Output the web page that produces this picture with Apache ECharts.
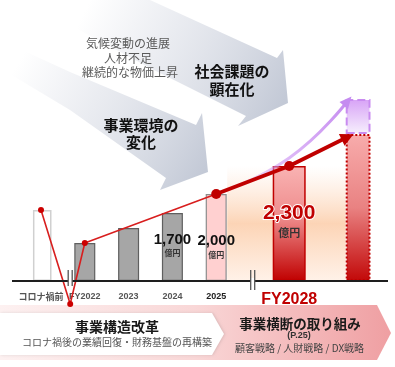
<!DOCTYPE html>
<html><head><meta charset="utf-8">
<script src="https://cdn.jsdelivr.net/npm/echarts@6/dist/echarts.min.js"></script>
<style>html,body{margin:0;padding:0;background:#fff}#c{width:395px;height:367px}</style>
</head><body><div id="c"></div>
<script>
// ---------------- data ----------------
const categories   = ['コロナ禍前', 'FY2022', '2023', '2024', '2025', 'FY2028', '目標'];
const barValues    = [71, 38, 53, 68, 87, 115, 147];          // bar heights (visual index)
const upsideValues = [null, null, null, null, null, null, 35]; // upside stacked on the target bar
const amountLabels = [null, null, null, '1,700', '2,000', '2,300', null];
const unitLabel    = '億円';
const trendThin    = [71, -23, 38, 87];   // コロナ禍前, コロナ禍の底, FY2022, 2025
const trendThick   = [87, 115, 144];      // 2025, FY2028, 矢印先端
const upsideCurve  = [87, 123, 180];      // 2025, FY2028, 矢印先端
const topNotes     = ['気候変動の進展', '人材不足', '継続的な物価上昇'];
const arrowTitles  = ['事業環境の\n変化', '社会課題の\n顕在化'];
const bannerLeft   = ['事業構造改革', 'コロナ禍後の業績回復・財務基盤の再構築'];
const bannerRight  = ['事業横断の取り組み', '(P.25)', '顧客戦略 / 人財戦略 / DX戦略'];

// ---------------- layout (broken axis slots) ----------------
const SLOT_COUNT = 23;
const catSlot = [0, 3, 6, 9, 12, 17, 22];
const troughSlot = 2, tipSlot = 21;
const thinSlots = [0, troughSlot, catSlot[1], catSlot[4]];
const thickSlots = [catSlot[4], catSlot[5], tipSlot];

const LAT = '"Liberation Sans", Arial, "Noto Sans CJK JP", sans-serif';
const JP = '"Noto Sans CJK JP", "Liberation Sans", sans-serif';

function vgrad(stops) {
  return new echarts.graphic.LinearGradient(0, 0, 0, 1, stops.map((c, i) => ({offset: Array.isArray(c) ? c[0] : i / (stops.length - 1), color: Array.isArray(c) ? c[1] : c})));
}

const barStyles = [
  {color: '#ffffff', borderColor: '#d0d0d0', borderWidth: 1.5},
  {color: '#a6a6a6', borderColor: '#5f5f5f', borderWidth: 1.2},
  {color: '#a6a6a6', borderColor: '#5f5f5f', borderWidth: 1.2},
  {color: '#a6a6a6', borderColor: '#5f5f5f', borderWidth: 1.2},
  {color: '#ffd0d0', borderColor: '#8c8c8c', borderWidth: 1.2},
  {color: vgrad([[0, '#f9b3b3'], [0.45, '#ee8b8b'], [1, '#c00000']]), borderColor: '#c00000', borderWidth: 1.5},
  {color: vgrad([[0, '#f8acac'], [0.5, '#e98282'], [1, '#c20808']]), borderColor: '#c00000', borderWidth: 2, borderType: 'dotted'}
];
const upsideStyle = {color: vgrad([[0, '#d7a2f6'], [1, '#f7f0fd']]), borderColor: '#c98cf0', borderWidth: 2, borderType: 'dashed'};

const labelCfg = [
  null, null, null,
  {offset: [0, -2], a: {fontSize: 15, color: '#111', lineHeight: 16}, b: {fontSize: 8, color: '#333', lineHeight: 11}},
  {offset: [0, 9], a: {fontSize: 15, color: '#111', lineHeight: 16}, b: {fontSize: 8, color: '#333', lineHeight: 11}},
  {offset: [0, -3], a: {fontSize: 21, color: '#c00000', lineHeight: 24, textBorderColor: '#fff', textBorderWidth: 2}, b: {fontSize: 11, color: '#333', lineHeight: 14}},
  null
];

const empty = () => new Array(SLOT_COUNT).fill('-');
const smallBars = empty(), bigBars = empty(), upsideBars = empty();
categories.forEach((c, i) => {
  const item = {value: barValues[i], itemStyle: barStyles[i]};
  const lc = labelCfg[i];
  if (lc && amountLabels[i]) {
    item.label = {
      show: true, position: 'inside', offset: lc.offset,
      formatter: '{a|' + amountLabels[i] + '}\n{b|' + unitLabel + '}',
      rich: {
        a: Object.assign({fontFamily: LAT, fontWeight: 'bold', align: 'center'}, lc.a),
        b: Object.assign({fontFamily: JP, fontWeight: 'bold', align: 'center'}, lc.b)
      }
    };
  }
  if (catSlot[i] < catSlot[5]) smallBars[catSlot[i]] = item; else bigBars[catSlot[i]] = item;
  if (upsideValues[i] != null) upsideBars[catSlot[i]] = {value: upsideValues[i], itemStyle: upsideStyle};
});

const thinData = empty();
thinSlots.forEach((s, i) => { thinData[s] = {value: trendThin[i], symbol: i === 3 ? 'none' : 'circle'}; });
const thickData = empty();
thickSlots.forEach((s, i) => {
  thickData[s] = i === 2 ? {value: trendThick[i], symbol: 'triangle', symbolSize: [13, 13], symbolRotate: -64} : {value: trendThick[i]};
});
const curveData = empty();
thickSlots.forEach((s, i) => {
  curveData[s] = i === 2 ? {value: upsideCurve[i], symbol: 'triangle', symbolSize: [11, 12], symbolRotate: -40} : {value: upsideCurve[i], symbol: 'none'};
});

const slotNames = [];
for (let i = 0; i < SLOT_COUNT; i++) {
  const j = catSlot.indexOf(i);
  if (j >= 0) {
    const isBig = categories[j] === 'FY2028';
    slotNames.push({
      value: categories[j],
      textStyle: isBig ? {fontSize: 16, color: '#c00000', fontWeight: 'bold', fontFamily: LAT}
        : {fontSize: 9, fontWeight: 'bold', color: categories[j] === '2025' ? '#222' : '#555', fontFamily: categories[j] === 'コロナ禍前' ? JP : LAT}
    });
  } else slotNames.push(' '.repeat(i + 1));
}

const xAxisBase = {
  type: 'category', data: slotNames, boundaryGap: true,
  axisLine: {show: false}, axisTick: {show: false}, splitLine: {show: false}
};

const chart = echarts.init(document.getElementById('c'));
chart.setOption({
  animation: false,
  backgroundColor: '#fff',
  grid: {left: 33.7, right: 25.5, top: 81, bottom: 86, containLabel: false, outerBoundsMode: 'none'},
  xAxis: [
    Object.assign({}, xAxisBase, {
      axisLabel: {interval: 0, margin: 11, verticalAlign: 'middle',
        formatter: v => (v === '目標' || !v.trim()) ? '' : v}
    }),
    Object.assign({}, xAxisBase, {show: false})
  ],
  yAxis: {type: 'value', min: 0, max: 200, show: false, splitLine: {show: false}},
  series: [
    {type: 'bar', xAxisIndex: 0, data: smallBars, barWidth: 21, z: 3},
    {type: 'bar', xAxisIndex: 1, data: bigBars, barWidth: 33, stack: 't', z: 3},
    {type: 'bar', xAxisIndex: 1, data: upsideBars, barWidth: 33, stack: 't', z: 3},
    {type: 'line', xAxisIndex: 0, data: curveData, smooth: 0.5, connectNulls: true, clip: false, showAllSymbol: true,
      symbol: 'none', z: 4,
      itemStyle: {color: '#c58cf0'},
      lineStyle: {width: 3, color: new echarts.graphic.LinearGradient(0, 0, 1, 0, [
        {offset: 0, color: 'rgba(214,165,245,0)'}, {offset: 0.45, color: 'rgba(206,150,243,0.6)'}, {offset: 1, color: '#c58cf0'}])}},
    {type: 'line', xAxisIndex: 0, data: thinData, connectNulls: true, clip: false, showAllSymbol: true,
      symbol: 'circle', symbolSize: 6, z: 5,
      itemStyle: {color: '#cc0000'}, lineStyle: {width: 1.6, color: '#d81e1e'}},
    {type: 'line', xAxisIndex: 0, data: thickData, connectNulls: true, clip: false, showAllSymbol: true,
      symbol: 'circle', symbolSize: 10, z: 6,
      itemStyle: {color: '#c00000'}, lineStyle: {width: 4, color: '#c00000'}}
  ]
});

// ---------------- decorations (from axis scales) ----------------
const base = chart.convertToPixel({yAxisIndex: 0}, 0);
const xs = i => chart.convertToPixel({xAxisIndex: 0}, i);
const brk1 = xs(troughSlot);
const brk2 = (xs(14) + xs(15)) / 2;
const glowL = xs(catSlot[4]) + 11, glowR = xs(catSlot[6]) - 16.5;
const glowTop = chart.convertToPixel({yAxisIndex: 0}, barValues[5]);

function breakMark(x, up, down) {
  return [
    {type: 'rect', z: 60, shape: {x: x - 2, y: base - 3, width: 4, height: 6}, style: {fill: '#fff'}},
    {type: 'line', z: 61, shape: {x1: x - 2, y1: base - up, x2: x - 2, y2: base + down}, style: {stroke: '#555', lineWidth: 1.3}},
    {type: 'line', z: 61, shape: {x1: x + 2, y1: base - up, x2: x + 2, y2: base + down}, style: {stroke: '#555', lineWidth: 1.3}}
  ];
}
function txt(text, x, y, font, fill, extra) {
  return Object.assign({type: 'text', z: 80, style: Object.assign({text, x, y, font, fill, align: 'center', verticalAlign: 'middle'}, extra || {})}, {});
}
const arrowGrad = (x1, y1, x2, y2) => ({type: 'linear', x: x1, y: y1, x2: x2, y2: y2, global: true,
  colorStops: [{offset: 0, color: 'rgba(210,214,225,0)'}, {offset: 0.45, color: 'rgba(212,216,226,0.55)'}, {offset: 1, color: '#c3c9d6'}]});

const graphics = [
  // background arrows
  {type: 'polygon', z: -5, shape: {points: [[20, -5], [150, 0], [277, 58], [283, 50], [288, 103], [238, 126], [246, 116], [150, 68], [70, 25], [10, 5]]},
    style: {fill: arrowGrad(90, 0, 285, 100)}},
  {type: 'polygon', z: -5, shape: {points: [[0, 40], [70, 72], [196, 125], [202, 113], [208, 172], [160, 190], [166, 178], [70, 110], [0, 68]]},
    style: {fill: arrowGrad(20, 60, 205, 170)}},
  // glow behind target bars
  {type: 'rect', z: -4, shape: {x: glowL, y: glowTop, width: glowR - glowL, height: base - glowTop},
    style: {fill: {type: 'linear', x: 0, y: 0, x2: 0, y2: 1, colorStops: [
      {offset: 0, color: 'rgba(253,222,200,0)'}, {offset: 0.5, color: 'rgba(252,210,178,0.95)'}, {offset: 1, color: 'rgba(255,240,230,0.9)'}]}}},
  // baseline
  {type: 'line', z: 59, shape: {x1: 12, y1: base, x2: 388, y2: base}, style: {stroke: '#1e1e1e', lineWidth: 2}},
  ...breakMark(brk1, 11, 5),
  ...breakMark(brk2, 11, 9),
  // notes
  txt(topNotes[0], 128, 43, '12px ' + JP, '#5a5a5a'),
  txt(topNotes[1], 128, 58, '12px ' + JP, '#5a5a5a'),
  txt(topNotes[2], 130, 72, '12px ' + JP, '#5a5a5a'),
  txt(arrowTitles[1], 232, 80, 'bold 15px ' + JP, '#111', {lineHeight: 18}),
  txt(arrowTitles[0], 141, 134, 'bold 15px ' + JP, '#111', {lineHeight: 17}),
  // bottom banner
  {type: 'polygon', z: -3, shape: {points: [[0, 305], [377, 305], [391, 333], [377, 360], [0, 360]]},
    style: {fill: {type: 'linear', x: 0, y: 0, x2: 1, y2: 0, colorStops: [
      {offset: 0, color: '#fdf1f1'}, {offset: 0.5, color: '#f9d7d7'}, {offset: 1, color: '#ef9fa2'}]}}},
  {type: 'polygon', z: -2, shape: {points: [[0, 313], [212, 313], [224, 334], [212, 355], [0, 355]]},
    style: {fill: '#ffffff', shadowBlur: 3, shadowColor: 'rgba(0,0,0,0.12)', shadowOffsetX: 1}},
  txt(bannerLeft[0], 117, 327, 'bold 14px ' + JP, '#1a1a1a'),
  txt(bannerLeft[1], 117, 342.5, '10px ' + JP, '#555'),
  txt(bannerRight[0], 300, 324, 'bold 13.5px ' + JP, '#1a1a1a'),
  txt(bannerRight[1], 299, 335.5, 'bold 9px ' + LAT, '#333'),
  txt(bannerRight[2], 299.5, 348, '10px ' + JP, '#444')
];
chart.setOption({graphic: graphics});
</script></body></html>
